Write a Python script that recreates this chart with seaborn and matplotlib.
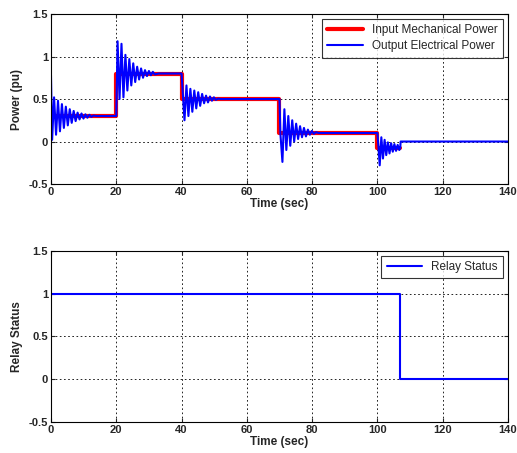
import matplotlib
matplotlib.use("Agg")
import matplotlib.pyplot as plt
import seaborn as sns
import pandas as pd

# input mechanical power (step changes), values hold until next time
pm_time = [0, 20, 40, 70, 100, 107]
pm_value = [0.3, 0.8, 0.5, 0.1, -0.08, -0.08]

# output electrical power, read peak by peak from the picture
pe_time = [
    0.0, 0.35, 0.95, 1.55, 2.15, 2.75, 3.35, 3.95, 4.55, 5.15, 5.75, 6.35,
    6.95, 7.55, 8.15, 8.75, 9.35, 9.95, 10.55, 11.15, 11.75, 12.35, 13.0, 14.0,
    20.0, 20.4, 21.0, 21.6, 22.2, 22.8, 23.4, 24.0, 24.6, 25.2, 25.8, 26.4,
    27.0, 27.6, 28.2, 28.8, 29.4, 30.0, 30.6, 31.2, 31.8, 33.0,
    40.0, 40.3, 40.9, 41.5, 42.1, 42.7, 43.3, 43.9, 44.5, 45.1, 45.7, 46.3,
    46.9, 47.5, 48.1, 48.7, 49.3, 49.9, 50.5, 51.2, 52.0,
    70.0, 70.3, 70.9, 71.5, 72.1, 72.7, 73.3, 73.9, 74.5, 75.1, 75.7, 76.3,
    76.9, 77.5, 78.1, 78.7, 79.3, 79.9, 80.5, 81.2, 82.0,
    100.0, 100.3, 100.7, 101.2, 101.7, 102.2, 102.7, 103.2, 103.7, 104.2,
    104.7, 105.2, 105.7, 106.2, 106.7, 107.0, 107.1, 140.0,
]
pe_value = [
    0.78, 0.02, 0.52, 0.08, 0.48, 0.12, 0.44, 0.16, 0.41, 0.19, 0.38, 0.22,
    0.36, 0.24, 0.34, 0.26, 0.33, 0.27, 0.32, 0.28, 0.315, 0.29, 0.305, 0.3,
    0.3, 1.18, 0.5, 1.15, 0.52, 1.02, 0.6, 0.97, 0.66, 0.92, 0.7, 0.88,
    0.73, 0.86, 0.75, 0.84, 0.77, 0.83, 0.78, 0.82, 0.79, 0.8,
    0.8, 0.62, 0.25, 0.66, 0.3, 0.62, 0.35, 0.6, 0.39, 0.58, 0.42, 0.56,
    0.45, 0.54, 0.46, 0.53, 0.48, 0.52, 0.49, 0.505, 0.5,
    0.5, 0.08, -0.24, 0.38, -0.1, 0.3, -0.05, 0.25, 0.0, 0.21, 0.03, 0.18,
    0.05, 0.16, 0.06, 0.14, 0.08, 0.125, 0.09, 0.11, 0.1,
    0.1, -0.05, -0.28, 0.05, -0.2, 0.02, -0.16, -0.01, -0.14, -0.02,
    -0.12, -0.03, -0.11, -0.04, -0.1, -0.07, 0.0, 0.0,
]

relay_time = [0, 107, 140]
relay_value = [1, 0, 0]

sns.set_style("white")
plt.rcParams["font.family"] = ["Liberation Sans", "DejaVu Sans"]

fig = plt.figure(figsize=(5.17, 4.53), dpi=100)
ax1 = fig.add_axes([0.0986, 0.5938, 0.884, 0.3752])
ax2 = fig.add_axes([0.0986, 0.0684, 0.884, 0.3776])

df_pm = pd.DataFrame({"t": pm_time, "p": pm_value})
df_pe = pd.DataFrame({"t": pe_time, "p": pe_value})
df_relay = pd.DataFrame({"t": relay_time, "s": relay_value})

sns.lineplot(data=df_pm, x="t", y="p", ax=ax1, color="red", lw=3,
             drawstyle="steps-post", estimator=None, sort=False,
             label="Input Mechanical Power")
sns.lineplot(data=df_pe, x="t", y="p", ax=ax1, color="blue", lw=1.5,
             estimator=None, sort=False, label="Output Electrical Power")
sns.lineplot(data=df_relay, x="t", y="s", ax=ax2, color="blue", lw=1.5,
             drawstyle="steps-post", estimator=None, sort=False,
             label="Relay Status")

for ax, ylab in [(ax1, "Power (pu)"), (ax2, "Relay Status")]:
    ax.set_xlim(0, 140)
    ax.set_ylim(-0.5, 1.5)
    ax.set_xticks(range(0, 141, 20))
    ax.set_yticks([-0.5, 0, 0.5, 1, 1.5])
    ax.set_yticklabels(["-0.5", "0", "0.5", "1", "1.5"])
    ax.grid(True, color="black", linestyle=(0, (2, 3)), lw=0.6)
    ax.tick_params(direction="in", length=3, labelsize=8, pad=2,
                   top=True, right=True, bottom=True, left=True)
    for lab in ax.get_xticklabels() + ax.get_yticklabels():
        lab.set_fontweight("bold")
    for sp in ax.spines.values():
        sp.set_color("black")
        sp.set_linewidth(0.8)
    ax.set_xlabel("Time (sec)", fontsize=8.5, fontweight="bold", labelpad=1)
    ax.set_ylabel(ylab, fontsize=8.5, fontweight="bold", labelpad=4)
    leg = ax.legend(loc="upper right", fontsize=8.5, frameon=True, fancybox=False,
                    borderaxespad=0.4, handlelength=3.0, borderpad=0.45,
                    labelspacing=0.35)
    leg.get_frame().set_edgecolor("black")
    leg.get_frame().set_linewidth(0.8)

fig.savefig("out.png", dpi=100)
